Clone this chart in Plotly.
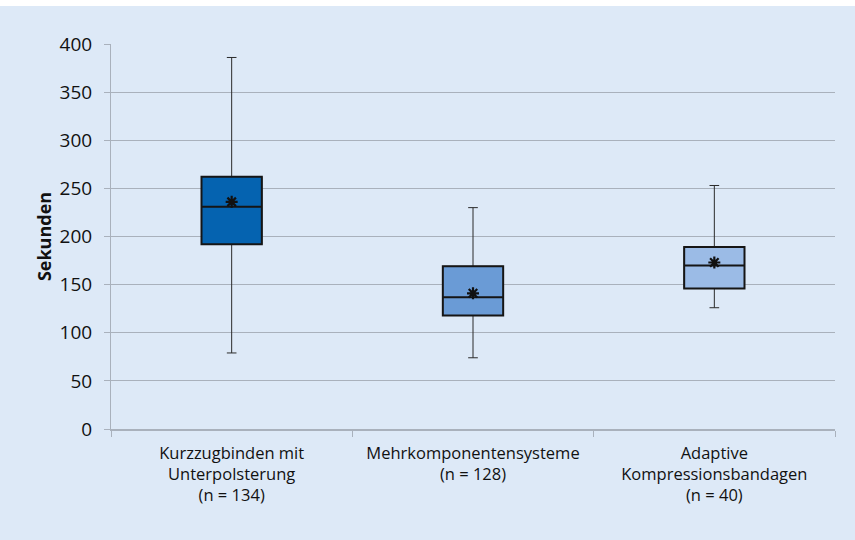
import plotly.graph_objects as go

# Summary statistics per bandage system (seconds)
categories = [
    "Kurzzugbinden mit<br>Unterpolsterung<br>(n = 134)",
    "Mehrkomponentensysteme<br>(n = 128)",
    "Adaptive<br>Kompressionsbandagen<br>(n = 40)",
]
lower_whisker = [79, 74, 126]
q1 = [192, 118, 146]
median = [231, 137, 170]
q3 = [262, 169, 189]
upper_whisker = [386, 230, 253]
mean = [236, 141, 173]
box_colors = ["#0563b0", "#6a9bd6", "#9bbbe6"]

y_ticks = list(range(0, 401, 50))

FONT = "Open Sans"
BG = "#dde9f7"
GRID = "#a9b1bc"

fig = go.Figure()

# Thin whiskers (full range), drawn underneath
for i, cat in enumerate(categories):
    fig.add_trace(go.Box(
        x=[cat], q1=[q1[i]], median=[median[i]], q3=[q3[i]],
        lowerfence=[lower_whisker[i]], upperfence=[upper_whisker[i]],
        fillcolor=box_colors[i], line=dict(color="#2b2b2b", width=1),
        width=0.25, whiskerwidth=0.16, boxpoints=False,
        showlegend=False, hoverinfo="skip",
    ))

# Boxes with heavier outline on top
for i, cat in enumerate(categories):
    fig.add_trace(go.Box(
        x=[cat], q1=[q1[i]], median=[median[i]], q3=[q3[i]],
        lowerfence=[q1[i]], upperfence=[q3[i]],
        fillcolor=box_colors[i], line=dict(color="#151515", width=2),
        width=0.25, whiskerwidth=0, boxpoints=False,
        showlegend=False,
    ))

# Mean markers
fig.add_trace(go.Scatter(
    x=categories, y=mean, mode="markers",
    marker=dict(symbol="asterisk-open", size=10, color="#111111",
                line=dict(color="#111111", width=2.2)),
    showlegend=False,
))

fig.update_layout(
    width=855, height=540,
    margin=dict(l=111, r=20, t=44, b=111),
    paper_bgcolor="white",
    plot_bgcolor=BG,
    boxmode="overlay",
    font=dict(family=FONT, color="#111111"),
    shapes=[dict(type="rect", xref="paper", yref="paper",
                 x0=-111 / 724, x1=1 + 20 / 724,
                 y0=-111 / 385, y1=1 + 38 / 385,
                 fillcolor=BG, line=dict(width=0), layer="below")],
)

fig.update_yaxes(
    range=[0, 400], tickvals=y_ticks, ticktext=[str(v) for v in y_ticks],
    showgrid=True, gridcolor=GRID, gridwidth=1,
    showline=True, linecolor=GRID, linewidth=1,
    ticks="outside", ticklen=6, tickcolor=GRID, ticklabelstandoff=8,
    tickfont=dict(size=19, family=FONT, color="#111111"),
    zeroline=False,
    title=dict(text="<b>Sekunden</b>", font=dict(size=18, family=FONT), standoff=3),
)
fig.update_xaxes(
    type="category", range=[-0.5, 2.5],
    showline=True, linecolor=GRID, linewidth=1.5,
    ticks="outside", ticklen=6, tickcolor=GRID, tickson="boundaries",
    ticklabelstandoff=8,
    tickfont=dict(size=16.5, family=FONT, color="#111111"),
    showgrid=False,
)

fig.write_html("out.html")
